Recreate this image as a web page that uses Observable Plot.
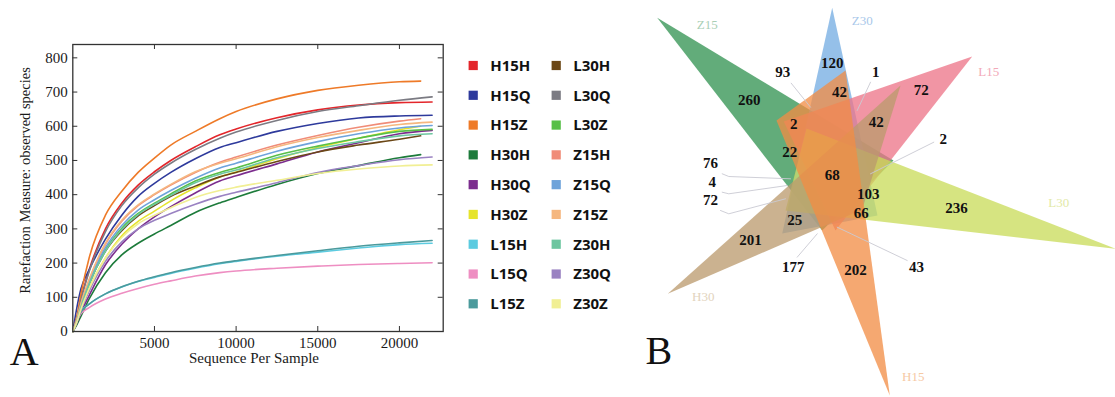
<!DOCTYPE html>
<html><head><meta charset="utf-8">
<script src="https://cdn.jsdelivr.net/npm/d3@7"></script>
<script src="https://cdn.jsdelivr.net/npm/@observablehq/plot@0.6"></script>
<style>
html,body{margin:0;padding:0;background:#fff;}
#wrap{position:relative;width:1115px;height:397px;overflow:hidden;background:#fff;}
#wrap > svg{position:absolute;overflow:visible;}
</style></head><body><div id="wrap"></div>
<script>
// ---------- Panel A data ----------
const samples = ["H15H","H15Q","H15Z","H30H","H30Q","H30Z","L15H","L15Q","L15Z","L30H","L30Q","L30Z","Z15H","Z15Q","Z15Z","Z30H","Z30Q","Z30Z"];
const sampleColors = ["#e3262b","#2e3a9c","#ee7a28","#1d7b3b","#7c2d8e","#e6e42c","#5ccbe0","#ee8ec2","#4b9a9c","#6b4716","#7b7b83","#58bf48","#f08c78","#6ea3da","#f5b77f","#6dc6a0","#9a82c2","#f1ef94"];
const seqDepth = [0,250,500,1000,2000,3000,4000,5000,6000,7500,9000,10000,12500,15000,17500,20000];
const endDepth = [22000,22000,21300,21300,22000,21300,22000,22000,22000,21300,22000,22000,21300,22000,22000,22000,22000,22000];
const H15H = [0,40,95,180,300,375,428,467,500,540,575,592,625,648,662,669,671];
const H15Q = [0,70,125,180,270,340,395,433,465,505,538,552,585,608,624,630,632];
const H15Z = [0,45,110,215,340,410,465,507,545,585,622,643,680,705,720,730,732];
const H30H = [0,20,45,95,172,224,258,285,310,348,376,392,430,462,485,508,517];
const H30Q = [0,25,55,105,195,255,300,335,365,405,440,455,490,525,552,578,588];
const H30Z = [0,28,65,125,215,280,322,352,382,420,452,466,505,538,565,590,600];
const L15H = [0,30,58,80,110,130,146,158,170,185,198,205,220,232,244,254,258];
const L15Q = [0,32,52,70,95,112,126,138,148,162,172,177,185,191,196,199,201];
const L15Z = [0,30,57,80,110,131,147,160,172,187,200,207,222,236,249,259,266];
const L30H = [0,32,75,140,235,295,338,368,395,425,452,465,497,525,545,562,572];
const L30Q = [0,38,92,175,292,368,420,460,492,532,565,583,617,643,660,676,686];
const L30Z = [0,32,75,140,238,302,345,375,402,440,465,478,515,542,565,585,591];
const Z15H = [0,35,80,150,255,322,368,400,428,465,495,510,545,573,597,615,622];
const Z15Q = [0,33,78,145,245,310,355,385,412,448,478,492,527,555,578,595,602];
const Z15Z = [0,35,82,152,258,325,370,402,430,467,492,505,540,567,588,605,612];
const Z30H = [0,30,72,138,235,298,342,372,398,435,460,472,508,535,555,572,578];
const Z30Q = [0,27,62,118,205,262,300,325,345,372,395,407,435,465,485,502,510];
const Z30Z = [0,28,65,125,215,275,315,340,362,392,412,422,442,462,475,484,487];
const seriesValues = [H15H,H15Q,H15Z,H30H,H30Q,H30Z,L15H,L15Q,L15Z,L30H,L30Q,L30Z,Z15H,Z15Q,Z15Z,Z30H,Z30Q,Z30Z];
const xTicks = [5000,10000,15000,20000];
const yTicks = [0,100,200,300,400,500,600,700,800];

// ---------- Panel B data ----------
const vennSets = ["Z15","Z30","L15","L30","H30","H15"];
const vennColors = ["#319250","#74ace2","#ec7488","#c9db59","#bb9a6d","#f28d45"];
const vennLabelColors = ["#a9cfb6","#a9c8ea","#f2a9b8","#e2e9a6","#e2d3bd","#f6c9a4"];
const triZ15 = [[656.7,17.3],[893,160],[821.7,230]];
const triZ30 = [[831.7,7.3],[877,215],[781.7,233]];
const triL15 = [[971.7,56],[783.3,121],[835,230]];
const triL30 = [[1115,248.3],[806,128],[785,210]];
const triH30 = [[667.3,293.3],[900,85],[861.7,209]];
const triH15 = [[889.3,395],[845,70],[776,120]];
const triangles = [triZ15,triZ30,triL15,triL30,triH30,triH15];
const setLabelX = [706.7,861.7,988.3,1058.3,702.7,912.7];
const setLabelY = [24,20,71,202.3,296,376];
const counts = ["120","93","1","42","72","260","2","42","2","22","76","68","4","103","72","236","66","25","201","177","202","43"];
const countX = [831.7,782.3,875.3,839,920.7,748.7,793.3,875.7,942.7,789.3,710,831.7,711.7,867.7,710,956,860.7,794.3,750,792.7,855,916];
const countY = [62.3,71.7,71.7,91.7,90,99.3,124,121.7,138.7,151.7,162.7,174.3,181.7,193.3,200,207.7,212.7,219.3,240,266.7,270,266.7];
const leader93 = [[790.7,82.7],[810,106.7]];
const leader1 = [[870,81.7],[856.7,110]];
const leader2 = [[933.3,141.7],[870,173.3]];
const leader76 = [[721.7,173.3],[728.3,176],[790,178.3]];
const leader4 = [[721.7,191.7],[728.3,193.3],[786.7,185]];
const leader72 = [[720,210],[728.3,213.3],[785,198.3]];
const leader177 = [[796.7,256.7],[816.7,233.3]];
const leader43 = [[906.7,260],[836.7,226.7]];
const leaders = [leader93,leader1,leader2,leader76,leader4,leader72,leader177,leader43];

const wrap = document.getElementById("wrap");
function place(svg, left, top) { svg.style.left = left + "px"; svg.style.top = top + "px"; wrap.appendChild(svg); }

// ---------- Panel A ----------
const rows = samples.flatMap((s, i) => seriesValues[i].map((v, j) => ({sample: s, depth: j < seqDepth.length ? seqDepth[j] : endDepth[i], v})));
const WA = 460, HA = 397, mL = 72.3, mR = 17.3, mT = 44, mB = 66;
const innerW = WA - mL - mR, innerH = HA - mT - mB;
const serif = "'Liberation Serif', 'Times New Roman', serif";
const plotA = Plot.plot({
  width: WA, height: HA,
  marginLeft: mL, marginRight: mR, marginTop: mT, marginBottom: mB,
  style: {fontFamily: serif, fontSize: "15px", background: "transparent", color: "#1a1a1a", overflow: "visible"},
  x: {domain: [0, 22680], ticks: xTicks, tickSize: 0, tickPadding: 6, tickFormat: "d", label: null},
  y: {domain: [0, 839], ticks: yTicks, tickSize: 0, tickPadding: 5, tickFormat: "d", label: null},
  color: {domain: samples, range: sampleColors},
  marks: [
    Plot.line(rows, {x: "depth", y: "v", z: "sample", stroke: "sample", strokeWidth: 1.6, curve: "monotone-x"}),
    Plot.frame({stroke: "#333", strokeWidth: 1.3}),
    Plot.ruleX(xTicks, {insetTop: innerH - 5, stroke: "#333"}),
    Plot.ruleX(xTicks, {insetBottom: innerH - 5, stroke: "#333"}),
    Plot.ruleY(yTicks, {insetRight: innerW - 5, stroke: "#333"}),
    Plot.ruleY(yTicks, {insetLeft: innerW - 5, stroke: "#333"}),
    Plot.text(["Sequence Per Sample"], {frameAnchor: "bottom", dx: -4, dy: 31, fontSize: 15, fill: "#1a1a1a"}),
    Plot.text(["Rarefaction Measure: observed species"], {frameAnchor: "left", textAnchor: "middle", lineAnchor: "middle", rotate: -90, dx: -47.3, dy: -7.5, fontSize: 14.5, fill: "#1a1a1a"}),
    Plot.text(["A"], {frameAnchor: "bottom-left", textAnchor: "start", lineAnchor: "bottom", dx: -63, dy: 33, fontSize: 40, fill: "#111"})
  ]
});
place(plotA, 0, 0);

// ---------- Legend ----------
const legendRows = samples.map((s, i) => ({sample: s, col: Math.floor(i / 9), row: i % 9}));
const legend = Plot.plot({
  width: 190, height: 300, margin: 0,
  style: {background: "transparent", overflow: "visible"},
  x: {domain: [0, 1], range: [22.7, 105.7], axis: null},
  y: {domain: [0, 8], range: [25, 263.3], axis: null},
  color: {domain: samples, range: sampleColors},
  marks: [
    Plot.dot(legendRows, {x: "col", y: "row", symbol: "square", r: 5.2, fill: "sample", stroke: "none"}),
    Plot.text(legendRows, {x: "col", y: "row", text: "sample", dx: 17, dy: 0.5, textAnchor: "start", fontSize: 15, fontWeight: "bold", fontFamily: "'Open Sans', 'DejaVu Sans', sans-serif", fill: "#111"})
  ]
});
place(legend, 450, 40);

// ---------- Panel B ----------
const triRows = triangles.flatMap((t, i) => t.map(p => ({set: vennSets[i], x: p[0], y: p[1]})));
const leaderRows = leaders.flatMap((l, i) => l.map(p => ({id: i, x: p[0], y: p[1]})));
const countRows = counts.map((c, i) => ({c, x: countX[i], y: countY[i]}));
const setLabelRows = vennSets.map((s, i) => ({s, x: setLabelX[i], y: setLabelY[i], col: vennLabelColors[i]}));
const plotB = Plot.plot({
  width: 475, height: 397, margin: 0,
  style: {background: "transparent", overflow: "visible"},
  x: {domain: [640, 1115], range: [0, 475], axis: null},
  y: {domain: [0, 397], range: [0, 397], axis: null},
  marks: [
    ...vennSets.map((s, i) => Plot.line(triRows.filter(d => d.set === s), {x: "x", y: "y", fill: vennColors[i], fillOpacity: 0.76, stroke: "none"})),
    Plot.line(leaderRows, {x: "x", y: "y", z: "id", stroke: "#c9cad3", strokeWidth: 0.9}),
    Plot.text(countRows, {x: "x", y: "y", text: "c", fontSize: 15, fontWeight: "bold", fontFamily: serif, fill: "#111"}),
    Plot.text(setLabelRows, {x: "x", y: "y", text: "s", fill: d => d.col, fontSize: 13, fontFamily: serif}),
    Plot.text(["B"], {frameAnchor: "bottom-left", textAnchor: "start", lineAnchor: "bottom", dx: 5, dy: -34, fontSize: 40, fontFamily: serif, fill: "#111"})
  ]
});
place(plotB, 640, 0);
</script></body></html>
